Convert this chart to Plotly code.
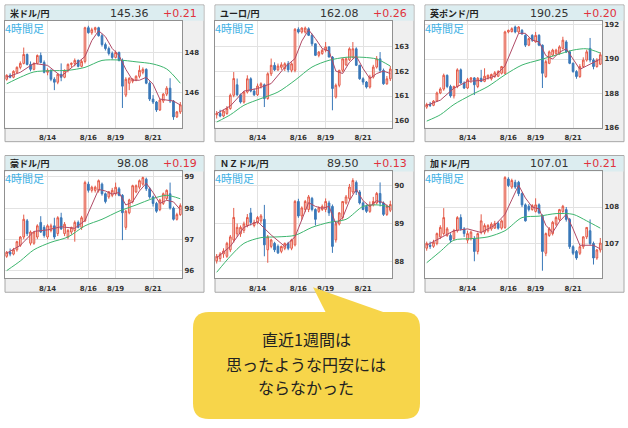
import plotly.graph_objects as go

W, H = 628, 428

# ---------------- data ----------------
pair_names = ["米ドル/円", "ユーロ/円", "英ポンド/円", "豪ドル/円", "ＮＺドル/円", "加ドル/円"]
last_prices = ["145.36", "162.08", "190.25", "98.08", "89.50", "107.01"]
changes = ["+0.21", "+0.26", "+0.20", "+0.19", "+0.13", "+0.21"]
timeframe_label = "4時間足"
x_tick_idx = [12, 24, 32, 43]
x_tick_text = ["8/14", "8/16", "8/19", "8/21"]

usd_o = [146.65,146.85,146.75,147.00,147.25,147.45,147.90,147.40,147.15,147.45,147.85,147.50,147.00,147.10,146.65,146.50,146.90,146.75,147.10,147.40,147.45,147.60,147.30,147.55,149.25,149.00,149.15,149.25,148.85,148.40,148.20,147.95,147.75,148.00,147.60,145.85,146.45,146.55,146.60,146.80,147.00,147.15,146.45,145.65,145.50,145.10,145.55,145.90,146.20,145.55,144.75,145.00]
usd_h = [146.90,146.95,147.10,147.30,147.55,148.25,147.95,147.55,147.50,147.90,148.00,147.60,147.20,147.15,146.75,146.95,147.45,147.15,147.45,147.50,147.70,147.65,147.65,149.30,149.35,149.25,149.30,149.30,148.95,148.50,148.30,148.05,148.10,148.05,147.70,146.75,146.75,146.70,146.85,147.35,147.25,147.20,146.55,145.85,145.55,145.65,145.95,146.30,146.70,145.60,145.05,145.50]
usd_l = [146.58,146.70,146.70,146.95,147.15,147.40,147.35,147.05,147.10,147.40,147.45,146.95,146.85,146.55,146.10,146.40,146.55,146.70,147.00,147.25,147.30,147.25,147.25,147.45,148.95,148.90,149.00,148.80,148.30,148.10,147.85,147.65,147.70,147.55,145.20,145.75,146.10,146.45,146.55,146.70,146.90,146.40,145.55,145.40,145.00,145.05,145.45,145.80,145.45,144.60,144.70,144.90]
usd_c = [146.85,146.75,147.05,147.25,147.45,147.90,147.40,147.15,147.45,147.85,147.50,147.00,147.10,146.65,146.50,146.90,146.75,147.10,147.40,147.45,147.60,147.30,147.55,149.25,149.00,149.15,149.25,148.85,148.40,148.20,147.95,147.75,148.00,147.60,146.30,146.65,146.70,146.65,146.80,147.10,147.15,146.45,145.65,145.50,145.10,145.60,145.90,146.20,145.55,144.75,145.00,145.36]

eur_o = [160.25,160.30,160.20,160.30,160.50,161.03,161.45,161.05,160.76,161.16,161.69,161.20,161.05,161.40,161.45,160.90,161.89,162.23,162.05,162.15,162.10,162.29,162.03,162.03,163.67,163.56,163.56,163.69,163.43,163.09,162.63,162.70,162.83,162.96,162.56,160.96,161.43,162.03,162.25,162.45,162.55,162.89,162.23,161.69,161.56,161.36,161.76,162.16,162.49,162.03,161.49,161.69]
eur_h = [160.40,160.45,160.45,160.60,161.10,161.96,161.70,161.10,161.20,161.83,161.75,161.30,161.50,161.55,161.50,161.95,162.50,162.35,162.30,162.35,162.35,162.40,162.35,163.72,163.75,163.75,163.78,163.75,163.50,163.10,162.80,162.90,163.16,163.00,162.60,161.50,162.05,162.50,162.55,162.95,163.16,162.95,162.25,161.75,161.60,161.85,162.25,162.60,162.76,162.10,161.80,162.20]
eur_l = [160.10,160.15,160.15,160.25,160.45,160.95,161.00,160.70,160.70,161.10,161.15,161.00,161.00,161.30,160.56,160.85,161.80,162.00,162.00,162.05,162.00,161.95,161.95,161.95,163.50,163.50,163.50,163.40,163.00,162.60,162.55,162.65,162.75,162.55,160.43,160.90,161.35,161.95,162.20,162.40,162.50,162.20,161.65,161.45,161.30,161.30,161.70,162.10,161.95,161.45,161.45,161.60]
eur_c = [160.30,160.20,160.40,160.50,161.03,161.70,161.05,160.76,161.16,161.69,161.20,161.05,161.40,161.49,160.90,161.89,162.23,162.05,162.20,162.25,162.29,162.05,162.29,163.67,163.56,163.72,163.72,163.43,163.09,162.63,162.76,162.83,162.96,162.56,161.30,161.43,162.03,162.49,162.49,162.89,162.89,162.23,161.69,161.56,161.36,161.76,162.16,162.49,162.03,161.49,161.69,162.08]

gbp_o = [187.20,187.35,187.30,187.55,188.02,188.25,189.05,188.40,187.85,188.40,189.37,188.60,188.31,188.80,188.90,188.40,188.88,188.70,188.90,188.85,188.98,189.00,189.17,189.17,191.58,191.60,191.87,191.58,191.67,191.38,190.81,191.38,191.00,191.38,190.81,188.98,189.75,190.23,190.33,190.33,190.62,191.00,190.42,189.75,189.27,188.98,189.56,189.94,190.62,189.94,189.56,189.70]
gbp_h = [187.45,187.50,187.60,188.10,188.35,189.15,189.10,188.50,188.45,189.46,189.45,188.70,188.90,188.95,188.95,188.95,189.37,189.46,189.10,189.15,189.30,189.35,189.60,191.65,191.72,191.85,191.95,191.92,191.75,191.45,191.25,191.45,191.58,191.45,190.85,189.95,190.50,190.60,190.60,190.80,191.30,191.10,190.50,189.80,189.35,189.70,190.10,190.55,191.23,190.05,190.05,190.40]
gbp_l = [187.10,187.20,187.25,187.50,187.95,188.15,188.30,187.75,187.70,188.30,188.55,188.25,188.25,188.60,187.90,188.30,188.65,188.65,188.80,188.75,188.90,188.95,189.10,189.10,191.50,191.55,191.50,191.50,191.40,190.70,190.75,191.00,190.95,190.75,188.31,188.90,189.70,190.15,190.25,190.25,190.55,190.35,189.70,189.20,188.85,188.90,189.50,189.85,189.80,189.40,189.50,189.65]
gbp_c = [187.35,187.30,187.55,188.02,188.25,189.05,188.40,187.85,188.40,189.37,188.60,188.31,188.80,188.90,188.50,188.88,188.70,189.00,189.05,189.10,189.20,189.27,189.56,191.58,191.67,191.77,191.58,191.87,191.48,190.81,191.19,191.10,191.38,190.81,189.17,189.85,190.42,190.52,190.52,190.71,191.10,190.42,189.75,189.27,188.98,189.56,189.94,190.42,189.94,189.56,189.94,190.25]

aud_o = [96.45,96.58,96.52,96.66,96.80,97.07,97.59,96.87,96.87,97.07,97.54,97.38,97.07,97.28,97.43,97.18,97.69,97.18,97.07,97.23,97.28,97.54,97.38,97.59,98.77,98.57,98.57,98.57,98.77,98.46,98.36,98.41,98.46,98.62,98.41,97.38,97.85,98.21,98.52,98.67,98.77,98.93,98.62,98.36,98.15,97.95,98.15,98.31,98.46,98.00,97.64,97.79]
aud_h = [96.62,96.70,96.72,96.95,97.10,97.79,97.65,97.28,97.25,97.48,97.74,97.45,97.48,97.50,97.69,97.74,97.85,97.55,97.33,97.40,97.60,97.60,97.75,98.88,98.85,98.72,98.72,98.92,98.82,98.50,98.55,98.65,98.82,98.68,98.45,97.95,98.30,98.75,98.76,98.92,99.01,98.98,98.68,98.40,98.20,98.30,98.50,98.60,98.82,98.05,97.85,98.15]
aud_l = [96.40,96.45,96.48,96.60,96.75,97.00,97.10,96.80,96.82,97.00,97.20,97.05,97.00,97.22,97.00,97.10,97.30,97.10,97.00,97.15,96.92,97.35,97.30,97.55,98.50,98.50,98.50,98.50,98.40,98.15,98.30,98.35,98.40,98.38,96.97,97.30,97.80,98.15,98.48,98.60,98.72,98.55,98.30,98.05,97.85,97.90,98.10,98.25,97.95,97.60,97.60,97.75]
aud_c = [96.58,96.52,96.66,96.92,97.07,97.64,97.18,97.23,97.23,97.43,97.23,97.12,97.43,97.43,97.07,97.69,97.33,97.48,97.28,97.38,97.54,97.38,97.69,98.82,98.57,98.67,98.67,98.88,98.46,98.21,98.52,98.57,98.67,98.41,97.85,97.90,98.26,98.72,98.72,98.88,98.98,98.62,98.36,98.15,97.90,98.26,98.46,98.57,98.00,97.64,97.79,98.08]

nzd_o = [88.02,88.08,88.20,88.14,88.31,88.57,88.73,88.73,88.82,88.95,89.28,88.95,89.03,89.07,89.11,88.31,88.40,88.48,88.40,88.27,88.35,88.48,88.35,88.44,89.58,89.20,89.37,89.37,89.66,89.37,89.32,89.37,89.37,89.54,89.45,88.57,88.99,89.16,89.54,89.66,89.83,90.08,89.83,89.54,89.45,89.32,89.49,89.54,89.79,89.54,89.24,89.35]
nzd_h = [88.20,88.25,88.35,88.52,88.70,89.41,89.00,88.95,89.05,89.25,89.41,89.10,89.20,89.25,89.49,88.70,88.60,88.52,88.45,88.42,88.50,88.52,88.60,89.62,89.65,89.45,89.62,89.75,89.70,89.40,89.45,89.50,89.66,89.60,89.50,89.05,89.30,89.58,89.75,90.04,90.19,90.13,89.88,89.58,89.50,89.58,89.70,89.83,90.08,89.58,89.50,89.60]
nzd_l = [87.95,88.00,88.10,88.10,88.25,88.50,88.65,88.65,88.75,88.90,88.95,88.90,88.98,89.00,88.14,87.97,88.35,88.25,88.20,88.22,88.30,88.30,88.30,88.40,89.15,89.10,89.30,89.30,89.32,88.95,89.28,89.33,89.30,89.20,88.23,88.50,88.95,89.10,89.50,89.60,89.78,89.75,89.50,89.35,89.28,89.28,89.45,89.50,89.45,89.20,89.20,89.30]
nzd_c = [88.14,88.20,88.28,88.48,88.65,89.16,88.90,88.90,88.99,89.16,89.03,89.03,89.16,89.20,88.44,88.65,88.57,88.31,88.23,88.40,88.48,88.35,88.57,89.58,89.20,89.41,89.58,89.70,89.37,89.11,89.41,89.45,89.58,89.28,88.40,88.99,89.28,89.58,89.70,89.96,90.13,89.83,89.54,89.37,89.32,89.49,89.58,89.79,89.54,89.24,89.45,89.50]

cad_o = [106.87,106.95,106.92,107.00,107.18,107.27,107.22,107.22,107.13,107.35,107.71,107.40,107.09,107.13,107.13,106.78,107.31,107.31,107.35,107.40,107.42,107.55,107.42,107.44,108.77,108.55,108.68,108.68,108.37,108.06,108.02,107.93,107.88,108.06,107.75,106.73,107.22,107.27,107.53,107.66,107.88,107.93,107.66,106.91,106.78,106.73,106.91,107.18,107.35,107.00,106.60,106.82]
cad_h = [107.05,107.05,107.10,107.30,107.50,107.97,107.45,107.28,107.40,107.75,107.80,107.45,107.35,107.35,107.20,107.30,107.80,107.55,107.53,107.58,107.62,107.60,107.66,108.85,108.82,108.78,108.75,108.72,108.40,108.10,108.08,108.08,108.24,108.10,107.80,107.30,107.45,107.62,107.75,107.95,108.06,108.00,107.70,106.95,106.82,106.95,107.20,107.45,107.66,107.05,106.85,107.15]
cad_l = [106.80,106.85,106.88,106.95,107.12,107.22,107.18,107.02,107.08,107.30,107.35,107.18,107.00,107.08,106.51,106.70,107.25,107.25,107.30,107.35,107.40,107.38,107.38,107.40,108.55,108.50,108.50,108.30,108.00,107.60,107.88,107.90,107.85,107.80,106.25,106.65,107.18,107.22,107.48,107.60,107.84,107.60,106.85,106.68,106.55,106.68,106.85,107.12,106.95,106.42,106.55,106.75]
cad_c = [107.00,106.92,107.03,107.27,107.44,107.71,107.40,107.09,107.35,107.71,107.40,107.27,107.27,107.31,106.78,107.27,107.62,107.49,107.49,107.53,107.55,107.42,107.62,108.81,108.59,108.73,108.55,108.37,108.06,107.62,107.93,108.04,108.06,107.84,106.78,107.27,107.40,107.58,107.71,107.93,108.02,107.66,106.91,106.73,106.60,106.91,107.18,107.44,107.00,106.60,106.82,107.01]

# short moving average (thin red line), sampled at candle indices
short_ma_idx = [0,4,8,12,16,20,23,25,27,29,31,33,35,37,39,41,43,45,47,49,51]
usd_short = [146.75,147.0,147.45,147.35,146.8,147.35,147.8,148.6,149.1,148.8,148.2,147.85,147.15,146.6,146.6,146.75,146.4,145.65,145.6,145.55,145.35]
eur_short = [160.3,160.6,161.2,161.3,161.5,162.15,162.5,163.2,163.65,163.3,162.9,162.8,162.0,161.9,162.35,162.6,162.1,161.7,161.9,162.0,161.9]
gbp_short = [187.3,187.6,188.3,188.7,188.75,189.0,189.6,190.6,191.5,191.5,191.1,191.0,190.2,190.0,190.4,190.6,190.0,189.4,189.6,189.8,190.0]
aud_short = [96.55,96.8,97.25,97.3,97.4,97.35,97.6,98.1,98.6,98.55,98.45,98.5,98.1,98.2,98.55,98.8,98.5,98.15,98.25,98.2,97.95]
nzd_short = [88.1,88.4,88.9,89.05,88.7,88.4,88.65,89.1,89.55,89.45,89.4,89.45,89.0,89.15,89.6,89.9,89.6,89.45,89.6,89.55,89.4]
cad_short = [106.95,107.15,107.35,107.4,107.3,107.5,107.8,108.2,108.6,108.25,108.0,107.95,107.5,107.3,107.6,107.8,107.4,106.95,106.95,106.95,106.85]

# long moving average (green line), sampled at candle indices
long_ma_idx = [0,4,8,13,18,23,28,33,38,43,47,51]
usd_long = [146.42,146.75,147.02,147.08,147.1,147.25,147.6,147.62,147.53,147.42,147.17,146.45]
eur_long = [159.96,160.25,160.63,160.9,161.16,161.63,162.16,162.43,162.55,162.55,162.48,162.2]
gbp_long = [186.38,186.75,187.35,187.9,188.4,189.08,189.65,189.94,190.23,190.52,190.6,190.35]
aud_long = [95.99,96.3,96.66,96.9,97.07,97.43,97.64,97.9,98.1,98.31,98.41,98.3]
nzd_long = [87.72,88.14,88.48,88.63,88.65,88.69,88.9,89.03,89.11,89.45,89.49,89.44]
cad_long = [106.47,106.78,107.09,107.13,107.18,107.35,107.71,107.75,107.82,107.8,107.62,107.42]

y_ticks = [[146, 148], [160, 161, 162, 163], [186, 188, 190, 192],
           [96, 97, 98, 99], [88, 89, 90], [107, 108]]
y_ranges = [[144.2, 149.6], [159.73, 164.01], [185.99, 192.23],
            [95.74, 99.18], [87.56, 90.37], [106.04, 108.98]]

callout_lines = ["直近1週間は", "思ったような円安には", "ならなかった"]

ohlc = [(usd_o, usd_h, usd_l, usd_c), (eur_o, eur_h, eur_l, eur_c), (gbp_o, gbp_h, gbp_l, gbp_c),
        (aud_o, aud_h, aud_l, aud_c), (nzd_o, nzd_h, nzd_l, nzd_c), (cad_o, cad_h, cad_l, cad_c)]
shorts = [usd_short, eur_short, gbp_short, aud_short, nzd_short, cad_short]
longs = [usd_long, eur_long, gbp_long, aud_long, nzd_long, cad_long]

# ---------------- layout geometry (pixels) ----------------
col_left = [5, 215, 425]
row_top = [5, 157]
PANEL_W, PANEL_H = 199, 138
PLOT_W = 177
HEAD_H = 16
PLOT_BOTTOM = 124


def fx(x):
    return x / W


def fy(y):
    return 1 - y / H


fig = go.Figure()
shapes = []
annotations = []
layout_axes = {}

JP = "Noto Sans CJK JP"
NUM = "DejaVu Sans"

for k in range(6):
    r, cidx = divmod(k, 3)
    L = col_left[cidx]
    T = row_top[r]
    sx = "" if k == 0 else str(k + 1)
    xa, ya = "x" + sx, "y" + sx

    # panel background
    shapes.append(dict(type="rect", xref="paper", yref="paper", layer="below",
                       x0=fx(L), x1=fx(L + PANEL_W), y0=fy(T + PANEL_H), y1=fy(T),
                       fillcolor="#efefef", line=dict(color="#a8a8a8", width=1)))
    shapes.append(dict(type="rect", xref="paper", yref="paper", layer="below",
                       x0=fx(L + 0.5), x1=fx(L + PANEL_W - 0.5), y0=fy(T + HEAD_H), y1=fy(T + 0.5),
                       fillcolor="#dcedf0", line=dict(width=0)))
    shapes.append(dict(type="rect", xref="paper", yref="paper", layer="below",
                       x0=fx(L), x1=fx(L + PLOT_W), y0=fy(T + PLOT_BOTTOM), y1=fy(T + HEAD_H),
                       fillcolor="white", line=dict(width=0)))

    o, h, l, c = ohlc[k]
    xs = list(range(len(c)))
    fig.add_trace(go.Candlestick(
        x=xs, open=o, high=h, low=l, close=c, xaxis=xa, yaxis=ya,
        increasing=dict(line=dict(color="#e45a48", width=1), fillcolor="#fbe0da"),
        decreasing=dict(line=dict(color="#3a78b8", width=1), fillcolor="#3a78b8"),
        whiskerwidth=0, showlegend=False, hoverinfo="skip"))
    fig.add_trace(go.Scatter(x=long_ma_idx, y=longs[k], mode="lines", xaxis=xa, yaxis=ya,
                             line=dict(color="#3db56e", width=1, shape="spline", smoothing=0.8),
                             showlegend=False, hoverinfo="skip"))
    fig.add_trace(go.Scatter(x=short_ma_idx, y=shorts[k], mode="lines", xaxis=xa, yaxis=ya,
                             line=dict(color="#b04a66", width=1),
                             showlegend=False, hoverinfo="skip"))

    layout_axes["xaxis" + sx] = dict(
        domain=[fx(L), fx(L + PLOT_W)], anchor=ya, range=[-0.5, len(c) - 0.5],
        tickvals=x_tick_idx, ticktext=x_tick_text, showgrid=True, gridcolor="#e2e2e2",
        showline=True, mirror=True, linecolor="#909090", linewidth=1, zeroline=False,
        ticks="outside", ticklen=3, tickcolor="rgba(0,0,0,0)",
        tickfont=dict(family=NUM, size=7, color="#333", weight="bold"),
        rangeslider=dict(visible=False), fixedrange=True)
    layout_axes["yaxis" + sx] = dict(
        domain=[fy(T + PLOT_BOTTOM), fy(T + HEAD_H)], anchor=xa, range=y_ranges[k],
        side="right", tickvals=y_ticks[k], showgrid=True, gridcolor="#e2e2e2",
        showline=True, mirror=True, linecolor="#909090", linewidth=1, zeroline=False,
        ticks="", tickfont=dict(family=NUM, size=7, color="#333", weight="bold"),
        fixedrange=True)

    annotations.append(dict(xref="paper", yref="paper", x=fx(L + 3), y=fy(T + 8.5),
                            xanchor="left", yanchor="middle", showarrow=False,
                            text=pair_names[k],
                            font=dict(family=JP, size=9, color="#222", weight="bold")))
    annotations.append(dict(xref="paper", yref="paper", x=fx(L + 146), y=fy(T + 8.5),
                            xanchor="right", yanchor="middle", showarrow=False,
                            text=last_prices[k], font=dict(family=NUM, size=11, color="#333")))
    annotations.append(dict(xref="paper", yref="paper", x=fx(L + 194), y=fy(T + 8.5),
                            xanchor="right", yanchor="middle", showarrow=False,
                            text=changes[k], font=dict(family=NUM, size=11, color="#e0323c")))
    annotations.append(dict(xref="paper", yref="paper", x=fx(L - 2), y=fy(T + 23),
                            xanchor="left", yanchor="middle", showarrow=False,
                            text=timeframe_label, font=dict(family=JP, size=11, color="#3db0e4")))

# callout bubble
bx0, bx1, by0, by1, rad = 193, 420, 315, 423, 16
P = lambda x, y: f"{fx(x):.5f},{fy(y):.5f}"
path = (f"M {P(bx0 + rad, by0)} L {P(bx1 - rad, by0)} Q {P(bx1, by0)} {P(bx1, by0 + rad)} "
        f"L {P(bx1, by1 - rad)} Q {P(bx1, by1)} {P(bx1 - rad, by1)} "
        f"L {P(bx0 + rad, by1)} Q {P(bx0, by1)} {P(bx0, by1 - rad)} "
        f"L {P(bx0, by0 + rad)} Q {P(bx0, by0)} {P(bx0 + rad, by0)} Z")
shapes.append(dict(type="path", xref="paper", yref="paper", path=path,
                   fillcolor="#f7d54a", line=dict(width=0), layer="above"))
tail = f"M {P(313, 290)} L {P(386, 316)} L {P(326, 316)} Z"
shapes.append(dict(type="path", xref="paper", yref="paper", path=tail,
                   fillcolor="#f7d54a", line=dict(width=0), layer="above"))

for i, (txt, yy) in enumerate(zip(callout_lines, [342, 367, 391])):
    annotations.append(dict(xref="paper", yref="paper", x=fx(306), y=fy(yy),
                            xanchor="center", yanchor="middle", showarrow=False,
                            text=txt, font=dict(family=JP, size=16, color="#222")))

fig.update_layout(width=W, height=H, margin=dict(l=0, r=0, t=0, b=0),
                  paper_bgcolor="white", plot_bgcolor="rgba(0,0,0,0)",
                  shapes=shapes, annotations=annotations, showlegend=False,
                  **layout_axes)

fig.write_html("out.html")
